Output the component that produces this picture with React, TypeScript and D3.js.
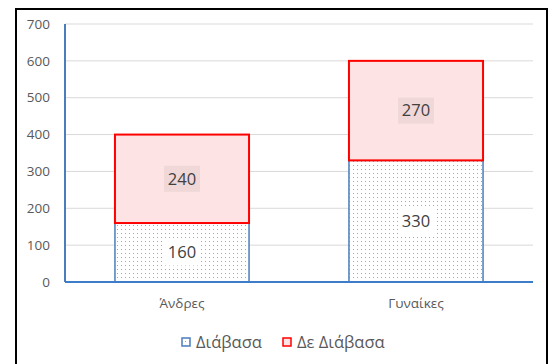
import React, { useRef, useEffect } from "react";
import * as d3 from "d3";

const categories = ["Άνδρες", "Γυναίκες"];
const readValues = [160, 330];
const notReadValues = [240, 270];
const seriesNames = ["Διάβασα", "Δε Διάβασα"];
const yTicks = [0, 100, 200, 300, 400, 500, 600, 700];

const FONT = "'Open Sans', 'Noto Sans', sans-serif";

function drawChart(el: SVGSVGElement) {
  const svg = d3.select(el);
  svg.selectAll("*").remove();

  const defs = svg.append("defs");
  const pat = defs
    .append("pattern")
    .attr("id", "dots")
    .attr("patternUnits", "userSpaceOnUse")
    .attr("width", 4)
    .attr("height", 4);
  pat.append("rect").attr("width", 4).attr("height", 4).attr("fill", "#fff");
  pat
    .append("rect")
    .attr("x", 1)
    .attr("y", 1)
    .attr("width", 1)
    .attr("height", 1)
    .attr("fill", "#a6a6a6");

  // outer frame
  svg
    .append("rect")
    .attr("x", 16)
    .attr("y", 9)
    .attr("width", 531)
    .attr("height", 370)
    .attr("fill", "#fff")
    .attr("stroke", "#000")
    .attr("stroke-width", 2);

  const x = d3.scaleBand<string>().domain(categories).range([65, 533]).paddingInner(0).paddingOuter(0);
  const y = d3.scaleLinear().domain([0, 700]).range([282, 24]);
  const barW = x.bandwidth() * 0.573;

  // gridlines
  svg
    .append("g")
    .selectAll("line")
    .data(yTicks.filter((t) => t > 0))
    .join("line")
    .attr("x1", 65)
    .attr("x2", 533)
    .attr("y1", (d) => y(d))
    .attr("y2", (d) => y(d))
    .attr("stroke", "#d9d9d9")
    .attr("stroke-width", 1);

  // tick labels
  svg
    .append("g")
    .selectAll("text")
    .data(yTicks)
    .join("text")
    .attr("x", 50)
    .attr("y", (d) => y(d))
    .attr("dy", "0.35em")
    .attr("text-anchor", "end")
    .attr("font-family", FONT)
    .attr("font-size", 13.5)
    .attr("fill", "#595959")
    .text((d) => d);

  const stack = categories.map((c, i) => ({
    cat: c,
    read: readValues[i],
    notRead: notReadValues[i],
  }));

  const bars = svg.append("g");
  stack.forEach((d) => {
    const bx = (x(d.cat) as number) + (x.bandwidth() - barW) / 2;
    bars
      .append("rect")
      .attr("x", bx)
      .attr("y", y(d.read))
      .attr("width", barW)
      .attr("height", y(0) - y(d.read))
      .attr("fill", "url(#dots)")
      .attr("stroke", "#4a7ebb")
      .attr("stroke-width", 1.5);
    bars
      .append("rect")
      .attr("x", bx)
      .attr("y", y(d.read + d.notRead))
      .attr("width", barW)
      .attr("height", y(d.read) - y(d.read + d.notRead))
      .attr("fill", "#fde3e3")
      .attr("stroke", "#ff0000")
      .attr("stroke-width", 2);
  });

  // data labels
  const labels = svg.append("g");
  stack.forEach((d) => {
    const cx = (x(d.cat) as number) + x.bandwidth() / 2;
    const segs = [
      { v: d.read, mid: y(d.read / 2), bg: "#ffffff" },
      { v: d.notRead, mid: y(d.read + d.notRead / 2), bg: "#f0d8d8" },
    ];
    segs.forEach((s) => {
      labels
        .append("rect")
        .attr("x", cx - 18)
        .attr("y", s.mid - 13)
        .attr("width", 36)
        .attr("height", 26)
        .attr("fill", s.bg);
      labels
        .append("text")
        .attr("x", cx)
        .attr("y", s.mid)
        .attr("dy", "0.35em")
        .attr("text-anchor", "middle")
        .attr("font-family", FONT)
        .attr("font-size", 16.5)
        .attr("fill", "#404040")
        .text(s.v);
    });
  });

  // axes lines
  svg
    .append("line")
    .attr("x1", 65)
    .attr("x2", 65)
    .attr("y1", y(700))
    .attr("y2", y(0))
    .attr("stroke", "#4a7ebb")
    .attr("stroke-width", 2);
  svg
    .append("line")
    .attr("x1", 65)
    .attr("x2", 533)
    .attr("y1", y(0))
    .attr("y2", y(0))
    .attr("stroke", "#3d7cc9")
    .attr("stroke-width", 2);

  // category labels
  svg
    .append("g")
    .selectAll("text")
    .data(categories)
    .join("text")
    .attr("x", (d) => (x(d) as number) + x.bandwidth() / 2)
    .attr("y", 303)
    .attr("dy", "0.35em")
    .attr("text-anchor", "middle")
    .attr("font-family", FONT)
    .attr("font-size", 13.5)
    .attr("fill", "#595959")
    .text((d) => d);

  // legend
  const legend = svg.append("g");
  const legendX = [182, 283];
  seriesNames.forEach((name, i) => {
    legend
      .append("rect")
      .attr("x", legendX[i])
      .attr("y", 338)
      .attr("width", 8)
      .attr("height", 8)
      .attr("fill", i === 0 ? "url(#dots)" : "#fde3e3")
      .attr("stroke", i === 0 ? "#4a7ebb" : "#ff0000")
      .attr("stroke-width", 1.5);
    legend
      .append("text")
      .attr("x", legendX[i] + 14)
      .attr("y", 342)
      .attr("dy", "0.35em")
      .attr("font-family", FONT)
      .attr("font-size", 16.5)
      .attr("fill", "#595959")
      .text(name);
  });
}

export default function App() {
  const ref = useRef<SVGSVGElement>(null);
  useEffect(() => {
    if (ref.current == null) return;
    drawChart(ref.current);
  }, []);
  return (
    <svg
      ref={ref}
      width={552}
      height={364}
      style={{ position: "absolute", left: 0, top: 0, background: "#fff" }}
    />
  );
}
